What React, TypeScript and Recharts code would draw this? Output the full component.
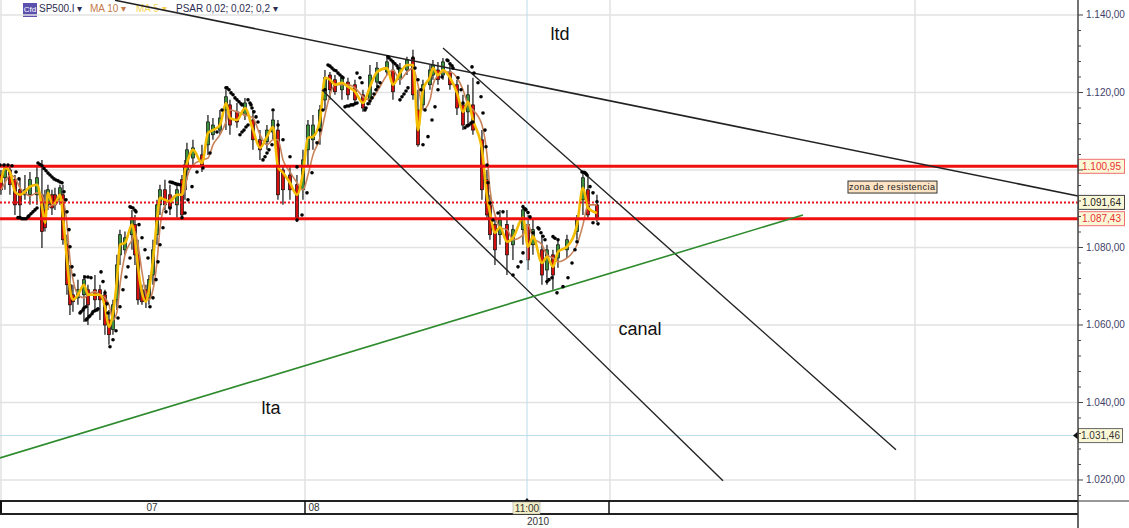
import React from "react";
import { Bar, CartesianGrid, ComposedChart, Line, ReferenceDot, ReferenceLine, XAxis, YAxis } from "recharts";

const barX = [
  1, 5, 10, 15, 20, 25, 30, 37, 42, 45,
  48, 52, 55, 60, 63, 67, 70, 73, 78, 84,
  88, 95, 100, 105, 109, 113, 117, 120, 125, 132,
  135, 138, 142, 146, 149, 153, 157, 160, 165, 170,
  177, 182, 185, 187, 193, 202, 208, 213, 220, 226,
  230, 237, 245, 253, 260, 267, 273, 278, 283, 290,
  297, 303, 308, 313, 320, 325, 330, 335, 342, 348,
  355, 363, 370, 377, 387, 393, 400, 407, 413, 418,
  423, 430, 433, 438, 443, 450, 457, 463, 468, 473,
  482, 487, 490, 495, 500, 507, 513, 523, 528, 533,
  542, 547, 553, 558, 567, 577, 583, 588, 597,
];
const highs = [
  1100.0, 1101.6, 1101.3, 1098.7, 1097.5, 1098.7, 1099.5, 1101.3, 1102.6, 1094.9,
  1096.2, 1094.9, 1095.4, 1096.2, 1096.2, 1083.3, 1075.5, 1070.4, 1071.7, 1072.9,
  1070.4, 1072.9, 1070.4, 1069.1, 1063.9, 1066.5, 1078.1, 1084.6, 1084.1, 1089.7,
  1088.4, 1082.0, 1070.4, 1070.4, 1072.9, 1082.0, 1092.3, 1096.2, 1097.5, 1096.2,
  1096.2, 1098.7, 1102.6, 1107.0, 1107.8, 1106.5, 1114.2, 1113.4, 1115.5, 1120.7,
  1118.1, 1117.3, 1118.6, 1115.5, 1110.3, 1111.6, 1115.0, 1112.9, 1101.3, 1101.3,
  1098.7, 1105.2, 1112.9, 1114.2, 1116.8, 1125.8, 1125.3, 1124.5, 1124.5, 1123.8,
  1123.3, 1120.7, 1127.1, 1127.9, 1129.7, 1128.4, 1127.6, 1129.2, 1131.0, 1120.7,
  1123.3, 1127.1, 1128.4, 1127.9, 1128.9, 1127.1, 1123.3, 1119.4, 1122.0, 1123.8,
  1110.3, 1100.0, 1093.6, 1087.1, 1089.7, 1089.7, 1085.9, 1091.0, 1088.4, 1087.1,
  1083.3, 1080.7, 1079.4, 1082.0, 1083.3, 1088.4, 1099.5, 1098.7, 1093.6,
];
const lows = [
  1093.6, 1094.9, 1093.6, 1088.4, 1087.7, 1092.3, 1091.0, 1091.0, 1079.9, 1084.1,
  1089.7, 1088.4, 1089.7, 1091.0, 1080.7, 1067.8, 1062.6, 1063.4, 1065.2, 1060.8,
  1060.0, 1063.9, 1061.3, 1057.5, 1054.9, 1057.5, 1063.9, 1075.5, 1078.1, 1079.4,
  1075.5, 1065.2, 1065.2, 1064.4, 1065.2, 1070.4, 1080.7, 1088.4, 1089.7, 1088.4,
  1087.7, 1087.7, 1092.3, 1097.5, 1101.3, 1099.5, 1103.9, 1107.8, 1109.1, 1110.3,
  1109.1, 1110.9, 1112.9, 1105.2, 1102.6, 1105.2, 1107.8, 1092.3, 1091.0, 1092.3,
  1086.6, 1092.3, 1101.3, 1105.2, 1106.5, 1115.5, 1118.1, 1119.4, 1118.1, 1118.1,
  1116.8, 1115.0, 1116.8, 1120.7, 1124.5, 1118.1, 1122.0, 1124.5, 1118.1, 1106.0,
  1115.5, 1120.7, 1123.3, 1122.0, 1123.3, 1120.7, 1114.2, 1110.3, 1110.9, 1109.1,
  1092.3, 1087.1, 1082.0, 1075.5, 1080.7, 1072.9, 1076.8, 1080.7, 1074.2, 1078.1,
  1070.4, 1070.4, 1069.1, 1074.8, 1077.3, 1082.0, 1088.4, 1087.1, 1086.6,
];
const bodyTop = [
  1098.7, 1100.5, 1100.0, 1097.5, 1094.9, 1094.9, 1097.5, 1098.0, 1093.6, 1089.7,
  1094.9, 1093.6, 1093.6, 1095.4, 1093.6, 1080.7, 1070.4, 1067.8, 1069.1, 1071.7,
  1069.1, 1069.1, 1069.1, 1067.8, 1061.3, 1065.2, 1075.5, 1083.3, 1082.5, 1087.7,
  1085.9, 1078.1, 1069.1, 1069.1, 1071.7, 1079.4, 1091.0, 1094.9, 1094.9, 1093.6,
  1094.9, 1097.5, 1101.3, 1105.2, 1105.7, 1103.9, 1112.4, 1111.6, 1113.4, 1118.9,
  1116.8, 1115.0, 1117.3, 1112.9, 1107.8, 1110.3, 1112.9, 1110.3, 1100.0, 1098.7,
  1096.2, 1102.6, 1111.6, 1111.6, 1115.5, 1123.8, 1124.5, 1123.3, 1123.8, 1122.7,
  1122.0, 1119.4, 1124.5, 1126.3, 1127.9, 1125.8, 1126.3, 1128.4, 1128.9, 1115.5,
  1122.0, 1125.8, 1127.1, 1125.8, 1127.9, 1125.3, 1122.0, 1116.8, 1119.4, 1116.8,
  1107.8, 1097.5, 1091.0, 1085.9, 1087.1, 1085.9, 1084.6, 1089.7, 1085.9, 1084.6,
  1079.4, 1079.4, 1078.1, 1080.7, 1082.0, 1087.1, 1098.0, 1094.9, 1091.0,
];
const bodyBottom = [
  1094.9, 1098.0, 1096.2, 1091.0, 1091.0, 1093.6, 1093.6, 1093.6, 1084.1, 1085.1,
  1091.0, 1090.2, 1091.0, 1092.3, 1082.0, 1070.4, 1065.2, 1066.0, 1067.0, 1067.8,
  1065.2, 1066.5, 1066.5, 1060.0, 1057.5, 1058.8, 1066.5, 1078.1, 1079.4, 1083.3,
  1078.1, 1066.5, 1066.0, 1066.5, 1067.0, 1072.9, 1083.3, 1091.0, 1091.0, 1090.2,
  1091.0, 1088.4, 1094.9, 1100.0, 1103.1, 1101.3, 1106.5, 1109.1, 1110.3, 1115.5,
  1111.6, 1112.4, 1114.2, 1107.8, 1105.2, 1107.3, 1109.8, 1093.6, 1094.9, 1094.9,
  1087.7, 1094.9, 1105.2, 1107.8, 1110.3, 1118.1, 1120.7, 1120.2, 1120.7, 1119.4,
  1118.1, 1116.0, 1118.1, 1122.7, 1125.3, 1120.2, 1123.3, 1125.8, 1119.4, 1106.5,
  1116.8, 1122.0, 1124.5, 1123.3, 1124.5, 1122.0, 1116.0, 1111.6, 1115.0, 1110.3,
  1094.9, 1088.4, 1083.3, 1079.4, 1083.3, 1078.1, 1080.7, 1084.6, 1076.8, 1080.7,
  1072.9, 1074.2, 1072.9, 1077.3, 1079.4, 1084.1, 1092.3, 1088.4, 1087.7,
];
const ma5 = [
  1096.7, 1100.5, 1099.5, 1094.4, 1093.6, 1094.4, 1095.7, 1096.2, 1090.5, 1086.4,
  1094.1, 1091.5, 1091.5, 1093.6, 1087.9, 1076.8, 1069.1, 1066.5, 1067.8, 1070.4,
  1067.8, 1067.8, 1067.8, 1064.7, 1059.5, 1063.1, 1071.7, 1080.7, 1081.2, 1085.9,
  1082.0, 1075.0, 1068.3, 1066.0, 1069.1, 1076.8, 1087.1, 1092.8, 1092.3, 1091.8,
  1093.6, 1093.6, 1100.0, 1101.8, 1105.2, 1101.8, 1109.6, 1110.3, 1111.6, 1117.3,
  1113.4, 1112.9, 1116.0, 1110.3, 1105.7, 1108.6, 1111.1, 1100.8, 1099.3, 1096.7,
  1093.6, 1099.3, 1108.3, 1108.6, 1112.9, 1123.8, 1123.3, 1122.0, 1122.5, 1121.5,
  1120.2, 1117.3, 1121.5, 1125.3, 1126.3, 1122.0, 1125.0, 1127.1, 1127.1, 1110.3,
  1120.7, 1124.0, 1126.3, 1124.5, 1125.8, 1123.8, 1119.9, 1115.0, 1117.6, 1112.9,
  1105.2, 1093.1, 1088.9, 1083.8, 1085.3, 1081.5, 1082.5, 1087.7, 1080.2, 1082.8,
  1076.0, 1077.6, 1075.0, 1078.9, 1080.2, 1085.9, 1095.4, 1090.2, 1088.9,
];
const ma10 = [
  1094.9, 1096.7, 1098.7, 1098.0, 1095.4, 1094.1, 1093.3, 1094.1, 1093.6, 1091.0,
  1090.2, 1091.0, 1091.0, 1092.3, 1092.3, 1085.9, 1076.8, 1071.7, 1067.8, 1067.0,
  1067.8, 1068.6, 1067.8, 1067.0, 1065.2, 1061.3, 1063.4, 1070.4, 1078.1, 1082.0,
  1084.1, 1080.7, 1073.7, 1067.8, 1066.5, 1069.1, 1076.3, 1085.1, 1091.0, 1092.3,
  1093.6, 1093.6, 1094.9, 1098.0, 1101.3, 1102.6, 1103.1, 1106.5, 1109.1, 1112.4,
  1115.5, 1115.0, 1114.2, 1113.4, 1109.1, 1106.5, 1107.8, 1107.8, 1102.6, 1099.5,
  1096.7, 1094.9, 1098.7, 1103.9, 1108.3, 1114.2, 1119.4, 1122.0, 1122.0, 1122.0,
  1121.2, 1118.9, 1118.1, 1120.2, 1124.5, 1125.8, 1123.3, 1125.3, 1126.3, 1122.0,
  1115.5, 1118.1, 1122.0, 1124.5, 1125.3, 1125.3, 1123.8, 1120.7, 1116.8, 1115.5,
  1111.6, 1103.9, 1094.9, 1088.4, 1085.1, 1084.6, 1082.0, 1083.3, 1085.9, 1082.5,
  1080.7, 1078.1, 1077.3, 1076.3, 1077.3, 1080.7, 1085.9, 1091.0, 1091.0,
];

const psarX = [
  0, 4, 8, 12, 16, 19, 18, 22, 26, 29, 33, 37,
  38, 42, 46, 50, 54, 58, 62, 64, 66, 67, 69, 70, 72, 74,
  80, 83, 86, 86, 89, 92, 95, 98, 85, 88, 91, 101, 103, 105, 107, 108,
  110, 113, 116, 118, 120, 123, 126, 128, 130, 130, 133, 136, 139, 142, 145, 148,
  150, 153, 156, 158, 160, 163, 166, 170, 170, 173, 176, 180,
  182, 185, 188, 192, 197, 203, 210, 217, 222, 226,
  227, 231, 235, 239, 242, 248, 251, 254, 258, 240, 244, 248, 263, 267, 272,
  273, 278, 283, 290, 297, 297, 302, 307, 312, 317, 320, 323, 325,
  328, 332, 336, 340, 343, 345, 349, 353, 357, 357, 360, 362,
  365, 368, 372, 376, 380, 388, 391, 395, 398, 400, 404, 408,
  413, 415, 418, 421, 425, 423, 428, 432, 435, 438, 442,
  447, 450, 453, 458, 461, 463,
  472, 474, 478, 481, 483, 485, 486, 487, 488, 490, 493,
  465, 469, 473, 498, 503,
  513, 518, 521, 523, 523, 526, 530, 533,
  538, 541, 545, 547, 552, 553, 558,
  557, 563, 568, 572, 575, 577,
  582, 585, 587, 590, 593, 597, 593, 598,
  40, 44, 48, 52, 56, 60, 229, 233, 237, 241, 250, 252, 256, 242, 246, 265, 269,
  330, 334, 338, 342, 347, 351, 355, 366, 370, 374, 378, 389, 393, 397, 402, 406,
  448, 452, 467, 471, 20, 24, 28, 31, 35, 81, 84, 87, 90, 93, 97, 172, 175, 178,
  131, 135, 525, 528, 539, 543, 549, 555, 584, 586,
];
const psarValues = [
  1101.3, 1101.3, 1101.3, 1101.1, 1099.5, 1097.7, 1087.7, 1087.4, 1087.4, 1088.2, 1089.2, 1090.2,
  1101.8, 1101.1, 1099.8, 1098.7, 1097.7, 1097.2, 1096.7, 1094.4, 1092.3, 1089.2, 1084.6, 1080.2, 1075.0, 1072.9,
  1063.1, 1063.9, 1064.7, 1061.3, 1062.1, 1062.9, 1063.7, 1064.2, 1072.4, 1072.4, 1072.2, 1073.7, 1071.2, 1068.3, 1065.5, 1063.1,
  1054.4, 1056.2, 1058.5, 1061.8, 1064.7, 1069.1, 1072.4, 1075.0, 1077.3, 1090.5, 1090.2, 1089.2, 1085.9, 1082.5, 1079.4, 1077.3,
  1064.7, 1067.0, 1071.7, 1076.3, 1080.7, 1085.1, 1089.2, 1090.2, 1096.9, 1096.7, 1096.4, 1096.2,
  1087.7, 1088.9, 1092.3, 1095.7, 1099.5, 1100.5, 1104.4, 1109.8, 1115.5, 1121.2,
  1121.2, 1119.9, 1118.6, 1117.6, 1116.8, 1118.1, 1116.8, 1115.0, 1112.4, 1109.1, 1110.3, 1111.6, 1102.6, 1104.4, 1106.5,
  1115.5, 1111.6, 1107.8, 1103.4, 1100.8, 1087.1, 1088.4, 1094.1, 1099.3, 1107.0, 1110.3, 1115.5, 1120.7,
  1127.1, 1126.3, 1125.6, 1124.5, 1123.8, 1116.3, 1116.5, 1116.8, 1117.3, 1125.0, 1123.8, 1122.5,
  1115.5, 1117.1, 1118.6, 1120.7, 1122.5, 1129.2, 1128.4, 1127.4, 1126.3, 1118.1, 1119.6, 1121.2,
  1128.9, 1126.3, 1123.3, 1120.7, 1115.5, 1106.5, 1108.6, 1112.9, 1116.3, 1120.7, 1124.0,
  1128.4, 1127.4, 1126.3, 1123.8, 1120.7, 1117.3,
  1126.6, 1125.0, 1122.5, 1118.9, 1114.7, 1110.3, 1106.0, 1101.3, 1096.7, 1091.5, 1087.1,
  1110.9, 1111.6, 1112.4, 1088.9, 1089.2,
  1072.9, 1075.0, 1076.3, 1078.6, 1090.5, 1089.7, 1087.9, 1083.8,
  1085.1, 1083.8, 1082.0, 1071.2, 1072.2, 1082.8, 1082.0,
  1068.3, 1069.9, 1072.2, 1076.0, 1079.4, 1081.5,
  1099.5, 1099.3, 1098.7, 1095.7, 1094.1, 1091.8, 1086.4, 1086.1,
  1101.4, 1100.4, 1099.2, 1098.2, 1097.4, 1096.9, 1120.7, 1119.4, 1118.1, 1117.1, 1117.3, 1116.0, 1113.7, 1109.8, 1111.1, 1103.4, 1105.2,
  1126.8, 1125.8, 1125.0, 1124.0, 1116.5, 1116.8, 1117.1, 1116.0, 1117.8, 1119.6, 1121.5, 1128.9, 1127.9, 1126.9, 1118.9, 1120.4,
  1128.2, 1126.9, 1111.4, 1112.1, 1087.7, 1087.4, 1087.9, 1088.7, 1089.7, 1063.4, 1064.4, 1061.6, 1062.4, 1063.4, 1063.9, 1096.8, 1096.5, 1096.3,
  1090.4, 1089.6, 1090.0, 1089.0, 1084.8, 1082.9, 1071.7, 1082.4, 1099.4, 1099.0,
];

const ltdLine = [{ x: 115, y: 1143.8 }, { x: 1078, y: 1093.3 }];
const channelLower = [{ x: 322, y: 1120.7 }, { x: 723, y: 1019.8 }];
const channelUpper = [{ x: 443, y: 1131.5 }, { x: 896, y: 1027.8 }];
const ltaLine = [{ x: 0, y: 1025.7 }, { x: 803, y: 1088.4 }];

const resistanceHigh = 1100.95;
const lastPrice = 1091.64;
const resistanceLow = 1087.43;
const cursorPrice = 1031.46;
const cursorTime = 527;

const yGridTicks = [1020, 1040, 1060, 1080, 1100, 1120, 1140];
const yLabelledTicks = [1020, 1040, 1060, 1080, 1120, 1140];
const yMinorTicks = [
  1016, 1020, 1024, 1028, 1032, 1036, 1040, 1044, 1048, 1052, 1056, 1060, 1064, 1068, 1072, 1076,
  1080, 1084, 1088, 1092, 1096, 1100, 1104, 1108, 1112, 1116, 1120, 1124, 1128, 1132, 1136, 1140,
];
const xGridValues = [1, 305, 610, 915];
const xAxisTicks = [1, 152, 305, 314, 527, 538, 609, 1078];
const xAxisLabels: Record<number, string> = { 152: "07", 314: "08", 527: "11:00", 538: "2010" };

const rows = barX.map((x, i) => ({
  x,
  high: highs[i],
  low: lows[i],
  top: bodyTop[i],
  bottom: bodyBottom[i],
  rising: i > 0 && ma5[i] > ma5[i - 1],
  ma5: ma5[i],
  ma10: ma10[i],
}));
const psarRows = psarX.map((x, i) => ({ x, psar: psarValues[i] }));

const FONT = "'Liberation Sans', Arial, sans-serif";

function Candle(props: any) {
  const { x, y, width, height, payload } = props;
  const h = Math.abs(height);
  const perUnit = h / (payload.high - payload.low);
  const cx = x + width / 2;
  const bodyY = y + (payload.high - payload.top) * perUnit;
  const bodyH = Math.max(1, (payload.top - payload.bottom) * perUnit);
  return (
    <g>
      <line x1={cx} x2={cx} y1={y} y2={y + h} stroke="#111" strokeWidth={1.2} />
      <rect
        x={cx - 1.6}
        y={bodyY}
        width={3.2}
        height={bodyH}
        fill={payload.rising ? "#3c8f3c" : "#d40f0f"}
        stroke="#111"
        strokeWidth={0.7}
      />
    </g>
  );
}

function RightTick(props: any) {
  const { x, y, payload } = props;
  const major = yGridTicks.includes(payload.value);
  const labelled = yLabelledTicks.includes(payload.value);
  const label = `1.${String(payload.value - 1000).padStart(3, "0")},00`;
  return (
    <g>
      <line x1={x} x2={x + (major ? 5 : 3)} y1={y} y2={y} stroke="#444" strokeWidth={1} />
      {labelled ? (
        <text x={x + 8} y={y + 3.5} fontFamily={FONT} fontSize={10} fill="#3f3f68">
          {label}
        </text>
      ) : null}
    </g>
  );
}

function BottomTick(props: any) {
  const { x, y, payload } = props;
  const v = payload.value;
  const label = xAxisLabels[v];
  if (v === 1) {
    return (
      <g>
        <line x1={x} x2={x} y1={y} y2={y + 13} stroke="#111" strokeWidth={2} />
        <line x1={0} x2={1078} y1={y + 13} y2={y + 13} stroke="#222" strokeWidth={2} />
      </g>
    );
  }
  if (v === 305 || v === 609) {
    return <line x1={x} x2={x} y1={y} y2={y + 13} stroke="#111" strokeWidth={1.5} />;
  }
  if (v === 1078) {
    return (
      <g>
        <line x1={x} x2={x} y1={y} y2={y + 27} stroke="#333" strokeWidth={1.5} />
        <line x1={x} x2={1129} y1={y} y2={y} stroke="#333" strokeWidth={1} />
      </g>
    );
  }
  if (v === 527) {
    return (
      <g>
        <path d={`M${x - 2.5} ${y} L${x} ${y - 3} L${x + 2.5} ${y} Z`} fill="#111" />
        <rect x={x - 14} y={y + 1} width={27} height={12} fill="#f4f0c8" stroke="#999" strokeWidth={0.5} />
        <text x={x} y={y + 11} textAnchor="middle" fontFamily={FONT} fontSize={10} fill="#333">
          {label}
        </text>
      </g>
    );
  }
  if (v === 538) {
    return (
      <text x={x} y={y + 24} textAnchor="middle" fontFamily={FONT} fontSize={10} fill="#333">
        {label}
      </text>
    );
  }
  return (
    <text x={x} y={y + 10} textAnchor="middle" fontFamily={FONT} fontSize={10} fill="#333">
      {label}
    </text>
  );
}

function priceTag(text: string, color: string, border: string, marker = false, tagWidth = 46) {
  return (p: any) => {
    const vb = p.viewBox;
    const right = vb.x + vb.width;
    const y = vb.y;
    return (
      <g>
        {marker ? <path d={`M${right - 5} ${y} L${right} ${y - 4} L${right} ${y + 4} Z`} fill="#111" /> : null}
        <rect x={right + 0.5} y={y - 7} width={tagWidth} height={14} fill="#fbf8d8" stroke={border} strokeWidth={1} />
        <text x={right + tagWidth / 2 + 0.5} y={y + 3.5} textAnchor="middle" fontFamily={FONT} fontSize={10} fill={color}>
          {text}
        </text>
      </g>
    );
  };
}

function annotation(text: string, size: number) {
  return (p: any) => (
    <text x={p.viewBox.x} y={p.viewBox.y + size * 0.36} textAnchor="middle" fontFamily={FONT} fontSize={size} fill="#111">
      {text}
    </text>
  );
}

function resistanceNote(text: string) {
  return (p: any) => (
    <g>
      <rect x={p.viewBox.x - 44} y={p.viewBox.y - 6} width={89} height={12} fill="#fde2c4" stroke="#333" strokeWidth={1} />
      <text
        x={p.viewBox.x}
        y={p.viewBox.y + 3}
        textAnchor="middle"
        fontFamily={FONT}
        fontSize={9}
        textLength={86}
        fill="#222"
      >
        {text}
      </text>
    </g>
  );
}

function LegendBar() {
  const base: React.CSSProperties = {
    position: "absolute",
    top: 2,
    fontFamily: FONT,
    fontSize: 10,
    lineHeight: "14px",
    whiteSpace: "nowrap",
  };
  return (
    <div style={{ position: "absolute", left: 0, top: 0, width: 600, height: 18 }}>
      <div
        style={{
          ...base,
          left: 23,
          top: 3,
          width: 14,
          height: 14,
          background: "#5b50ad",
          color: "#fff",
          fontSize: 8,
          textAlign: "center",
        }}
      >
        Cfd
      </div>
      <span style={{ ...base, left: 39, color: "#2c2c50" }}>SP500.I ▾</span>
      <span style={{ ...base, left: 90, color: "#c47a4a" }}>MA 10 ▾</span>
      <span style={{ ...base, left: 136, color: "#f7d558" }}>MA 5 ▾</span>
      <span style={{ ...base, left: 176, color: "#2c2c50" }}>PSAR 0,02; 0,02; 0,2 ▾</span>
    </div>
  );
}

export default function App() {
  return (
    <div style={{ position: "absolute", left: 0, top: 0, width: 1129, height: 528, background: "#fff", overflow: "hidden" }}>
      <LegendBar />
      <div style={{ position: "absolute", left: 0, top: 0 }}>
        <ComposedChart width={1129} height={528} data={rows} margin={{ top: 0, right: 0, bottom: 0, left: 0 }}>
          <CartesianGrid
            stroke="#e2e2e2"
            strokeWidth={1.5}
            horizontalValues={yGridTicks}
            verticalValues={xGridValues}
          />
          <XAxis
            dataKey="x"
            type="number"
            domain={[0, 1078]}
            allowDataOverflow
            ticks={xAxisTicks}
            interval={0}
            height={27}
            tickLine={false}
            tickSize={0}
            tickMargin={0}
            axisLine={{ stroke: "#222", strokeWidth: 2 }}
            tick={<BottomTick />}
          />
          <YAxis
            orientation="right"
            type="number"
            domain={[1014.58, 1143.87]}
            allowDataOverflow
            ticks={yMinorTicks}
            interval={0}
            width={51}
            tickLine={false}
            tickSize={0}
            tickMargin={0}
            axisLine={{ stroke: "#444", strokeWidth: 1.5 }}
            tick={<RightTick />}
          />
          <ReferenceLine y={cursorPrice} stroke="#b7dcec" strokeWidth={1} label={priceTag("1.031,46", "#333", "#666", true, 44)} />
          <ReferenceLine x={cursorTime} stroke="#b7dcec" strokeWidth={1} />
          <Bar dataKey={(r: any) => [r.low, r.high]} barSize={3} shape={<Candle />} isAnimationActive={false} />
          <Line
            data={psarRows}
            dataKey="psar"
            stroke="none"
            dot={{ r: 1.8, fill: "#000", stroke: "none" }}
            activeDot={false}
            isAnimationActive={false}
            legendType="none"
          />
          <Line dataKey="ma10" stroke="#c8835a" strokeWidth={1.6} dot={false} activeDot={false} isAnimationActive={false} type="monotone" />
          <Line dataKey="ma5" stroke="#f5bd00" strokeWidth={2.6} dot={false} activeDot={false} isAnimationActive={false} type="monotone" />
          <ReferenceLine y={lastPrice} stroke="#e8141c" strokeWidth={2} strokeDasharray="2 2" label={priceTag("1.091,64", "#222", "#444")} />
          <ReferenceLine y={resistanceHigh} stroke="#f00f0f" strokeWidth={3} label={priceTag("1.100,95", "#e83030", "#f07070")} />
          <ReferenceLine y={resistanceLow} stroke="#f00f0f" strokeWidth={3} label={priceTag("1.087,43", "#e83030", "#f07070")} />
          <ReferenceLine segment={ltdLine} stroke="#222" strokeWidth={1.6} />
          <ReferenceLine segment={channelLower} stroke="#222" strokeWidth={1.4} />
          <ReferenceLine segment={channelUpper} stroke="#222" strokeWidth={1.4} />
          <ReferenceLine segment={ltaLine} stroke="#2e8b2e" strokeWidth={1.6} />
          <ReferenceDot x={560} y={1135.1} r={0} stroke="none" fill="none" label={annotation("ltd", 18)} />
          <ReferenceDot x={271} y={1038.6} r={0} stroke="none" fill="none" label={annotation("lta", 18)} />
          <ReferenceDot x={640} y={1059.0} r={0} stroke="none" fill="none" label={annotation("canal", 18)} />
          <ReferenceDot x={892} y={1095.6} r={0} stroke="none" fill="none" label={resistanceNote("zona de resistencia")} />
        </ComposedChart>
      </div>
    </div>
  );
}
